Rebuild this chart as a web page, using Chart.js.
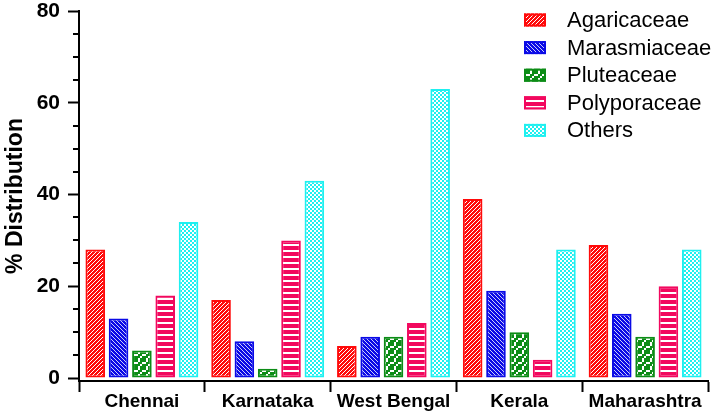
<!DOCTYPE html>
<html><head><meta charset="utf-8">
<script src="https://cdn.jsdelivr.net/npm/chart.js@4"></script>
<style>html,body{margin:0;padding:0;background:#fff}#wrap{width:720px;height:414px}</style>
</head><body><div id="wrap"><canvas id="c" width="720" height="414"></canvas></div>
<script>
const categories = ['Chennai', 'Karnataka', 'West Bengal', 'Kerala', 'Maharashtra'];
const seriesNames = ['Agaricaceae', 'Marasmiaceae', 'Pluteaceae', 'Polyporaceae', 'Others'];
const agaricaceae = [28, 17, 7, 39, 29];
const marasmiaceae = [13, 8, 9, 19, 14];
const pluteaceae = [6, 2, 9, 10, 9];
const polyporaceae = [18, 30, 12, 4, 20];
const others = [34, 43, 63, 28, 28];
const yTickLabels = [0, 20, 40, 60, 80];
const yMinorTicks = [5, 10, 15, 25, 30, 35, 45, 50, 55, 65, 70, 75];

const FONT = "'Liberation Sans', Arial, sans-serif";
const canvas = document.getElementById('c');
const ctx = canvas.getContext('2d');

function makePattern(w, h, draw) {
  const c = document.createElement('canvas');
  c.width = w; c.height = h;
  const g = c.getContext('2d');
  draw(g, w, h);
  return ctx.createPattern(c, 'repeat');
}
const RED = '#ff0a0a', BLUE = '#0a0ae6', GREEN = '#0c8c16', PINK = '#f2085e', CYAN = '#1ef0f0';

const redPat = makePattern(4, 4, (g, s) => {
  g.fillStyle = RED; g.fillRect(0, 0, s, s);
  g.strokeStyle = '#fff'; g.lineWidth = 1.0;
  for (const k of [-s, 0, s]) { g.beginPath(); g.moveTo(k, s); g.lineTo(k + s, 0); g.stroke(); }
});
const bluePat = makePattern(4, 4, (g, s) => {
  g.fillStyle = BLUE; g.fillRect(0, 0, s, s);
  g.strokeStyle = '#fff'; g.lineWidth = 0.8;
  for (const k of [-s, 0, s]) { g.beginPath(); g.moveTo(k, 0); g.lineTo(k + s, s); g.stroke(); }
});
const greenPat = makePattern(8, 8, (g) => {
  g.fillStyle = '#fff'; g.fillRect(0, 0, 8, 8);
  g.fillStyle = GREEN;
  const bits = [[1,0,1,1],[0,1,1,0],[1,1,0,1],[1,0,1,1]];
  bits.forEach((row, r) => row.forEach((b, cc) => { if (b) g.fillRect(cc * 2, r * 2, 2, 2); }));
});
const pinkPat = makePattern(1, 6, (g) => {
  g.fillStyle = PINK; g.fillRect(0, 0, 1, 6);
  g.fillStyle = '#fff'; g.fillRect(0, 4, 1, 2);
});
const cyanPat = makePattern(4, 4, (g) => {
  g.fillStyle = CYAN; g.fillRect(0, 0, 4, 4);
  g.fillStyle = '#fff'; g.fillRect(0, 0, 2, 2); g.fillRect(2, 2, 2, 2);
});

const fills = [redPat, bluePat, greenPat, pinkPat, cyanPat];
const borders = [RED, BLUE, GREEN, PINK, CYAN];
const values = [agaricaceae, marasmiaceae, pluteaceae, polyporaceae, others];

const datasets = seriesNames.map((name, i) => ({
  label: name,
  data: values[i],
  backgroundColor: fills[i],
  borderColor: borders[i],
  borderWidth: 2,
  borderSkipped: false
}));

const minorTicks = {
  id: 'minorTicks',
  afterDraw(chart) {
    const y = chart.scales.y;
    const c = chart.ctx;
    c.save();
    c.strokeStyle = '#000'; c.lineWidth = 2;
    yMinorTicks.forEach(v => {
      const py = Math.round(y.getPixelForValue(v));
      c.beginPath(); c.moveTo(y.right - 6, py); c.lineTo(y.right, py); c.stroke();
    });
    c.restore();
  }
};

const insideLegend = {
  id: 'insideLegend',
  afterDraw(chart) {
    const c = chart.ctx;
    const area = chart.chartArea;
    const bx = area.right - 184, tx = area.right - 141;
    c.save();
    c.font = "22px " + FONT;
    c.textBaseline = 'middle';
    chart.data.datasets.forEach((ds, i) => {
      const cy = area.top + 9 + i * 27.6;
      c.fillStyle = ds.backgroundColor;
      c.fillRect(bx, cy - 6.5, 22, 13);
      c.strokeStyle = ds.borderColor; c.lineWidth = 2;
      c.strokeRect(bx + 1, cy - 5.5, 20, 11);
      c.fillStyle = '#000';
      c.fillText(ds.label, tx, cy + 1);
    });
    c.restore();
  }
};

new Chart(ctx, {
  type: 'bar',
  data: { labels: categories, datasets },
  plugins: [minorTicks, insideLegend],
  options: {
    responsive: false,
    animation: false,
    devicePixelRatio: 1,
    layout: { padding: { left: 0, right: 12, top: 11, bottom: 0 } },
    plugins: { legend: { display: false }, tooltip: { enabled: false } },
    datasets: { bar: { categoryPercentage: 0.927, barPercentage: 0.84 } },
    scales: {
      x: {
        grid: { display: true, drawOnChartArea: false, drawTicks: true, tickLength: 11, tickWidth: 2, tickColor: '#000', offset: true },
        border: { display: true, color: '#000', width: 2 },
        ticks: { font: { family: FONT, size: 19, weight: 'bold' }, color: '#000', padding: -2, maxRotation: 0, autoSkip: false },
        afterFit(s) { s.height = 33; s.paddingLeft = 0; s.paddingRight = 0; }
      },
      y: {
        min: -0.65, max: 80,
        afterBuildTicks(s) { s.ticks = yTickLabels.map(v => ({ value: v })); },
        grid: { display: true, drawOnChartArea: false, drawTicks: true, tickLength: 11, tickWidth: 2, tickColor: '#000' },
        border: { display: true, color: '#000', width: 2 },
        ticks: { font: { family: FONT, size: 21, weight: 'bold' }, color: '#000', padding: 8 },
        title: { display: true, text: '% Distribution', font: { family: FONT, size: 23, weight: 'bold' }, color: '#000', padding: { top: 2, bottom: 0 } },
        afterFit(s) { s.width = 79; s.paddingTop = 0; s.paddingBottom = 0; }
      }
    }
  }
});
</script></body></html>
